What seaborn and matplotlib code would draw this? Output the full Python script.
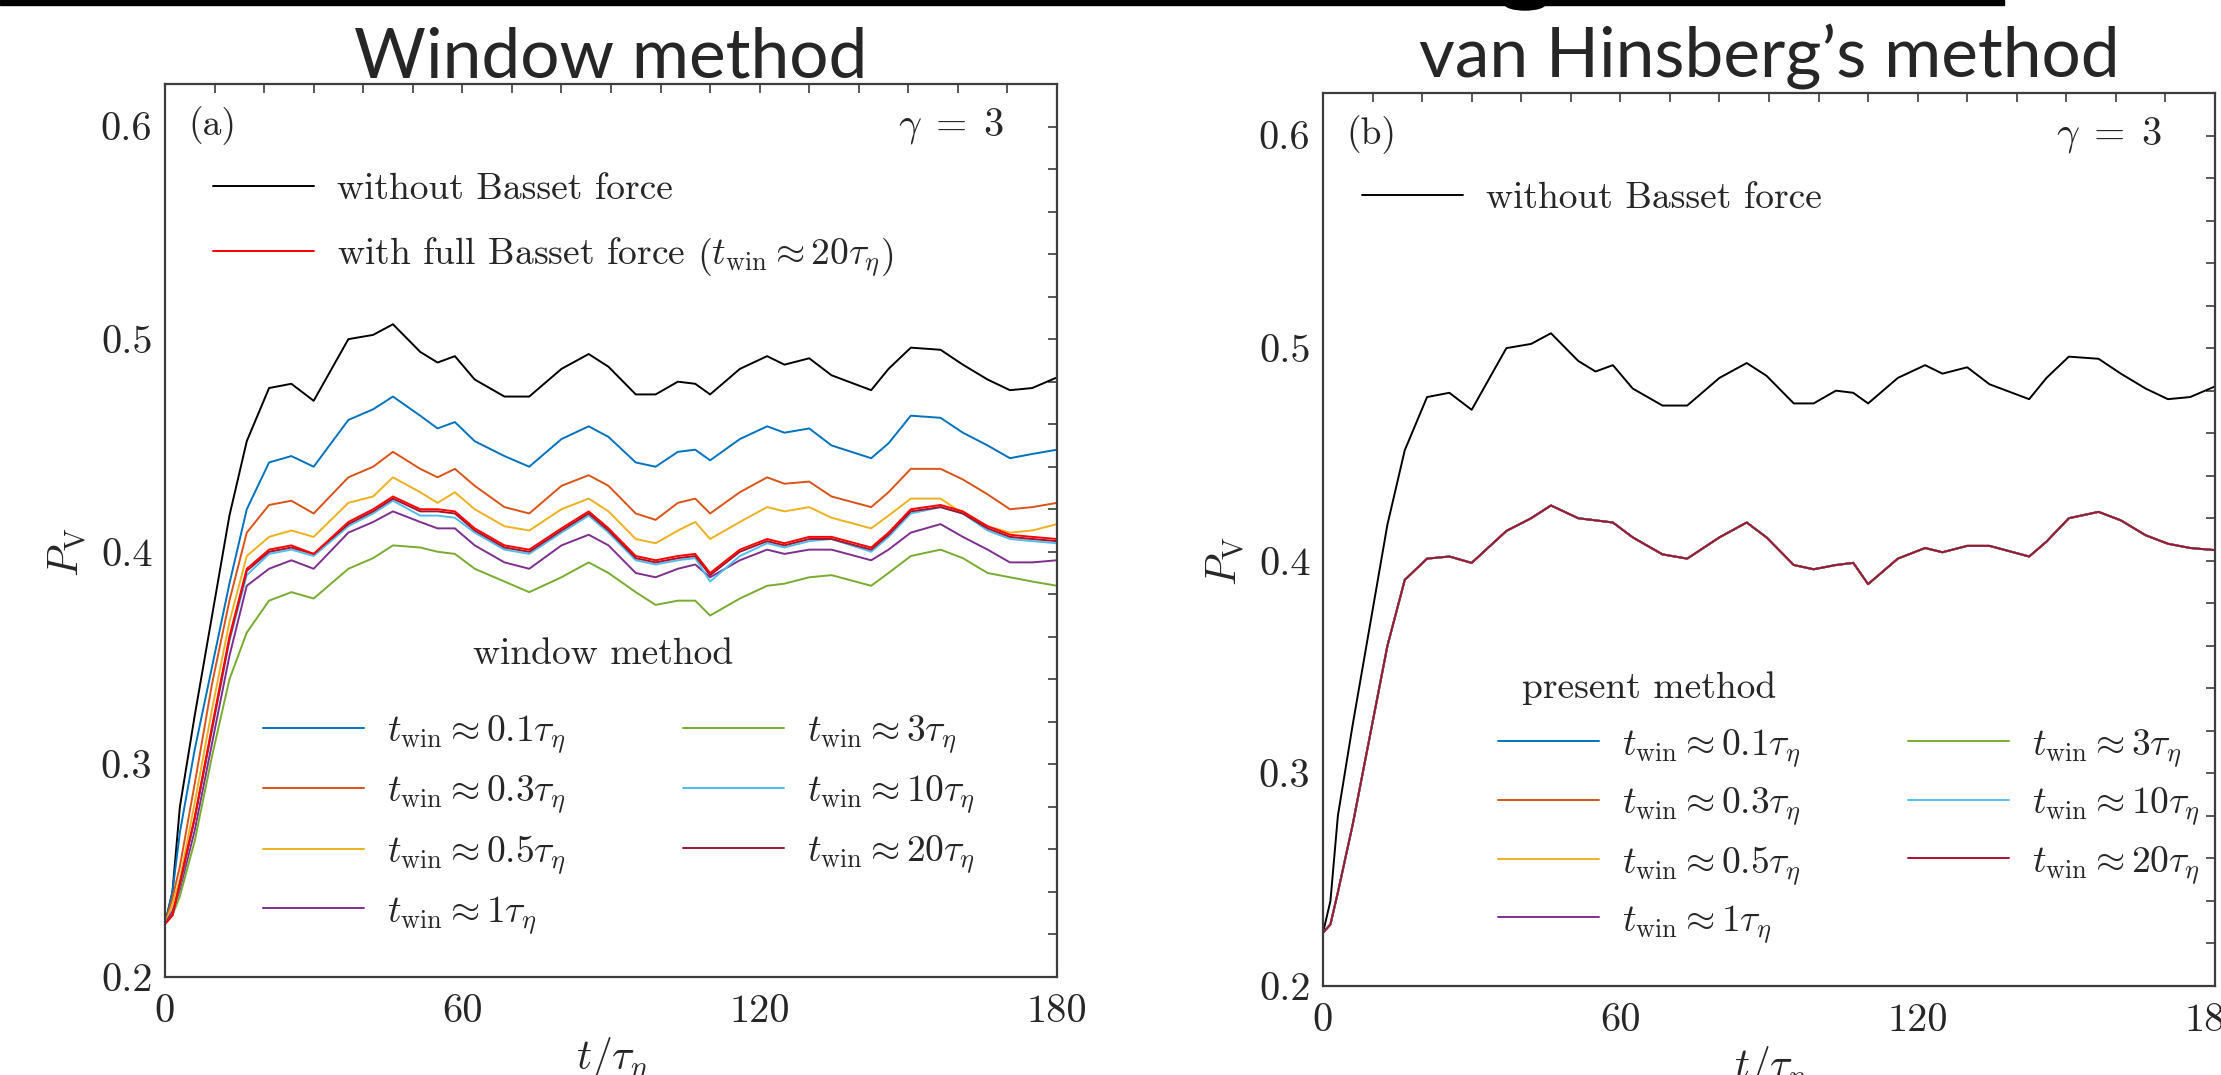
import matplotlib
matplotlib.use("Agg")
import matplotlib.pyplot as plt
import matplotlib.patches as mpatches
import seaborn as sns
import numpy as np

# time grid (t / tau_eta) shared by all curves
t = [0, 1.5, 3, 6, 9.5, 13, 16.5, 21, 25.5, 30, 37, 42, 46, 51.5, 55, 58.5,
     62.5, 68.5, 73.5, 80, 85.5, 89.5, 95, 99, 103.5, 107, 110, 116, 121.5,
     125, 130, 134.5, 142.5, 146, 150.5, 156.5, 161, 166, 170.5, 175, 180]

# P_V without Basset force
no_basset = [0.225, 0.240, 0.280, 0.323, 0.370, 0.417, 0.452, 0.477, 0.479, 0.471,
             0.500, 0.502, 0.507, 0.494, 0.489, 0.492, 0.481, 0.473, 0.473, 0.486,
             0.493, 0.487, 0.474, 0.474, 0.480, 0.479, 0.474, 0.486, 0.492, 0.488,
             0.491, 0.483, 0.476, 0.486, 0.496, 0.495, 0.488, 0.481, 0.476, 0.477, 0.482]

# P_V with full Basset force
full_basset = [0.225, 0.229, 0.244, 0.275, 0.318, 0.360, 0.392, 0.401, 0.403, 0.399,
               0.414, 0.420, 0.426, 0.420, 0.420, 0.419, 0.411, 0.403, 0.401, 0.411,
               0.419, 0.411, 0.398, 0.396, 0.398, 0.399, 0.390, 0.401, 0.406, 0.404,
               0.407, 0.407, 0.402, 0.409, 0.420, 0.422, 0.419, 0.412, 0.408, 0.407, 0.406]

# window method, one list per window length
win_labels = [r"$t_{\mathrm{win}} \approx 0.1\tau_\eta$", r"$t_{\mathrm{win}} \approx 0.3\tau_\eta$",
              r"$t_{\mathrm{win}} \approx 0.5\tau_\eta$", r"$t_{\mathrm{win}} \approx 1\tau_\eta$",
              r"$t_{\mathrm{win}} \approx 3\tau_\eta$", r"$t_{\mathrm{win}} \approx 10\tau_\eta$",
              r"$t_{\mathrm{win}} \approx 20\tau_\eta$"]
win_colors = ["#0072BD", "#D95319", "#EDB120", "#7E2F8E", "#77AC30", "#4DBEEE", "#A2142F"]

win_01 = [0.225, 0.240, 0.268, 0.307, 0.346, 0.385, 0.420, 0.442, 0.445, 0.440,
          0.462, 0.467, 0.473, 0.464, 0.458, 0.461, 0.452, 0.445, 0.440, 0.453,
          0.459, 0.454, 0.442, 0.440, 0.447, 0.448, 0.443, 0.453, 0.459, 0.456,
          0.458, 0.450, 0.444, 0.451, 0.464, 0.463, 0.456, 0.450, 0.444, 0.446, 0.448]
win_03 = [0.225, 0.237, 0.252, 0.291, 0.338, 0.377, 0.409, 0.422, 0.424, 0.418,
          0.435, 0.440, 0.447, 0.439, 0.435, 0.439, 0.431, 0.421, 0.418, 0.431,
          0.436, 0.431, 0.418, 0.415, 0.423, 0.425, 0.418, 0.428, 0.435, 0.432,
          0.433, 0.426, 0.421, 0.428, 0.439, 0.439, 0.434, 0.427, 0.420, 0.421, 0.423]
win_05 = [0.225, 0.234, 0.246, 0.282, 0.326, 0.367, 0.398, 0.407, 0.410, 0.407,
          0.423, 0.426, 0.435, 0.428, 0.423, 0.428, 0.420, 0.412, 0.410, 0.420,
          0.425, 0.419, 0.406, 0.404, 0.410, 0.414, 0.406, 0.414, 0.421, 0.419,
          0.421, 0.416, 0.411, 0.417, 0.425, 0.425, 0.418, 0.412, 0.409, 0.410, 0.413]
win_1 = [0.225, 0.231, 0.241, 0.269, 0.310, 0.351, 0.384, 0.392, 0.396, 0.392,
         0.409, 0.414, 0.419, 0.414, 0.411, 0.411, 0.403, 0.395, 0.392, 0.403,
         0.408, 0.403, 0.390, 0.388, 0.392, 0.394, 0.388, 0.396, 0.401, 0.399,
         0.401, 0.401, 0.396, 0.401, 0.409, 0.413, 0.407, 0.401, 0.395, 0.395, 0.396]
win_3 = [0.225, 0.229, 0.238, 0.264, 0.304, 0.340, 0.362, 0.377, 0.381, 0.378,
         0.392, 0.397, 0.403, 0.402, 0.400, 0.399, 0.392, 0.386, 0.381, 0.388,
         0.395, 0.390, 0.381, 0.375, 0.377, 0.377, 0.370, 0.378, 0.384, 0.385,
         0.388, 0.389, 0.384, 0.390, 0.398, 0.401, 0.397, 0.390, 0.388, 0.386, 0.384]
win_10 = [0.225, 0.229, 0.243, 0.274, 0.316, 0.358, 0.389, 0.399, 0.401, 0.398,
          0.412, 0.418, 0.424, 0.417, 0.417, 0.416, 0.409, 0.401, 0.399, 0.409,
          0.417, 0.409, 0.396, 0.394, 0.396, 0.397, 0.386, 0.398, 0.404, 0.402,
          0.405, 0.406, 0.400, 0.407, 0.418, 0.421, 0.418, 0.410, 0.406, 0.405, 0.404]
win_20 = [0.225, 0.229, 0.244, 0.275, 0.317, 0.359, 0.391, 0.400, 0.402, 0.399,
          0.413, 0.419, 0.425, 0.419, 0.419, 0.418, 0.410, 0.402, 0.400, 0.410,
          0.418, 0.410, 0.397, 0.395, 0.397, 0.398, 0.389, 0.400, 0.405, 0.403,
          0.406, 0.406, 0.401, 0.408, 0.419, 0.421, 0.418, 0.411, 0.407, 0.406, 0.405]
window_series = [win_01, win_03, win_05, win_1, win_3, win_10, win_20]

# van Hinsberg (present) method: all window lengths collapse on one curve
present = [0.225, 0.229, 0.244, 0.276, 0.318, 0.360, 0.391, 0.401, 0.402, 0.399,
           0.414, 0.420, 0.426, 0.420, 0.419, 0.418, 0.411, 0.403, 0.401, 0.411,
           0.418, 0.411, 0.398, 0.396, 0.398, 0.399, 0.389, 0.401, 0.406, 0.404,
           0.407, 0.407, 0.402, 0.409, 0.420, 0.423, 0.419, 0.412, 0.408, 0.406, 0.405]

x_major = [0, 60, 120, 180]
y_major = [0.2, 0.3, 0.4, 0.5, 0.6]

sns.set_theme(style="white")
plt.rcParams["font.family"] = ["cmr10", "DejaVu Serif"]
plt.rcParams["mathtext.fontset"] = "cm"
plt.rcParams["axes.formatter.use_mathtext"] = True

W, H = 2221, 1075
fig = plt.figure(figsize=(W / 100, H / 100), dpi=100)
fig.patch.set_facecolor("white")

ax_l = fig.add_axes([165 / W, 1 - 977 / H, 892 / W, 893 / H])
ax_r = fig.add_axes([1323 / W, 1 - 986 / H, 892 / W, 893 / H])

LW = 1.4
FS = 27
fpx = FS * 100 / 72


def style_axes(ax):
    ax.set_xlim(0, 180)
    ax.set_ylim(0.2, 0.62)
    ax.set_xticks(x_major)
    ax.set_xticks(np.arange(0, 181, 10), minor=True)
    ax.set_yticks(y_major)
    ax.set_yticks(np.arange(0.2, 0.621, 0.02), minor=True)
    ax.set_xticklabels([str(v) for v in x_major])
    ax.set_yticklabels([f"{v:.1f}" for v in y_major])
    for s in ax.spines.values():
        s.set_color("#3c3c3c")
        s.set_linewidth(1.6)
    ax.tick_params(which="both", direction="in", top=True, right=True,
                   length=6.5, width=1.2, color="#3c3c3c")
    ax.tick_params(axis="x", which="major", labelsize=29, pad=12)
    ax.tick_params(axis="y", which="major", labelsize=29, pad=9)
    ax.set_xlabel(r"$t/\tau_\eta$", fontsize=30, labelpad=4)
    ax.set_ylabel(r"$P_{\rm V}$", fontsize=30)
    ax.yaxis.set_label_coords(-0.085, 0.476)
    ax.set_facecolor("white")


# ---- left panel: window method
sns.lineplot(x=t, y=no_basset, color="black", lw=LW, ax=ax_l, legend=False)
h_black = ax_l.get_lines()[-1]
win_handles = []
for vals, col in zip(window_series, win_colors):
    sns.lineplot(x=t, y=vals, color=col, lw=LW, ax=ax_l, legend=False)
    win_handles.append(ax_l.get_lines()[-1])
sns.lineplot(x=t, y=full_basset, color="#FF0000", lw=LW, ax=ax_l, legend=False)
h_red = ax_l.get_lines()[-1]
style_axes(ax_l)

leg1 = ax_l.legend([h_black, h_red],
                   ["without Basset force",
                    r"with full Basset force $\left(t_{\mathrm{win}} \approx 20\tau_\eta\right)$"],
                   loc="upper left", bbox_to_anchor=(0.054, 0.9005), frameon=False,
                   fontsize=FS, handlelength=101 / fpx, handletextpad=23 / fpx,
                   labelspacing=0.78, borderpad=0, borderaxespad=0)
ax_l.add_artist(leg1)
ax_l.legend(win_handles, win_labels, ncol=2, loc="upper left",
            bbox_to_anchor=(0.110, 0.295), frameon=False, fontsize=FS,
            handlelength=101 / fpx, handletextpad=23 / fpx, columnspacing=117 / fpx,
            labelspacing=0.48, borderpad=0, borderaxespad=0)
ax_l.text(0.491, 0.361, "window method", transform=ax_l.transAxes,
          ha="center", va="center", fontsize=FS)
ax_l.text(0.026, 0.953, "(a)", transform=ax_l.transAxes, ha="left", va="center", fontsize=27)
ax_l.text(0.9406, 0.953, r"$\gamma\;=\;3$", transform=ax_l.transAxes, ha="right", va="center", fontsize=29)

# ---- right panel: van Hinsberg's method
sns.lineplot(x=t, y=no_basset, color="black", lw=LW, ax=ax_r, legend=False)
h_black_r = ax_r.get_lines()[-1]
pres_handles = []
for col in win_colors:
    sns.lineplot(x=t, y=present, color=col, lw=LW, ax=ax_r, legend=False)
    pres_handles.append(ax_r.get_lines()[-1])
style_axes(ax_r)

leg2 = ax_r.legend([h_black_r], ["without Basset force"], loc="upper left",
                   bbox_to_anchor=(0.044, 0.9005), frameon=False, fontsize=FS,
                   handlelength=101 / fpx, handletextpad=23 / fpx,
                   borderpad=0, borderaxespad=0)
ax_r.add_artist(leg2)
ax_r.legend(pres_handles, win_labels, ncol=2, loc="upper left",
            bbox_to_anchor=(0.196, 0.29), frameon=False, fontsize=FS,
            handlelength=101 / fpx, handletextpad=23 / fpx, columnspacing=108 / fpx,
            labelspacing=0.44, borderpad=0, borderaxespad=0)
ax_r.text(0.223, 0.334, "present method", transform=ax_r.transAxes,
          ha="left", va="center", fontsize=FS)
ax_r.text(0.026, 0.953, "(b)", transform=ax_r.transAxes, ha="left", va="center", fontsize=27)
ax_r.text(0.9406, 0.953, r"$\gamma\;=\;3$", transform=ax_r.transAxes, ha="right", va="center", fontsize=29)

# ---- slide titles and the cut-off rule at the very top
fig.text(611 / W, 1 - 77 / H, "Window method", ha="center", va="baseline",
         fontsize=50, family=["Lato", "DejaVu Sans"])
fig.text(1769 / W, 1 - 77 / H, "van Hinsberg\u2019s method", ha="center", va="baseline",
         fontsize=50, family=["Lato", "DejaVu Sans"])
fig.patches.append(mpatches.Rectangle((0, 1 - 5 / H), 2004 / W, 5 / H,
                                      transform=fig.transFigure, color="black"))
fig.patches.append(mpatches.Ellipse((1525 / W, 1 - 4 / H), 40 / W, 12 / H,
                                    transform=fig.transFigure, color="black"))

fig.savefig("out.png", dpi=100, facecolor="white")
